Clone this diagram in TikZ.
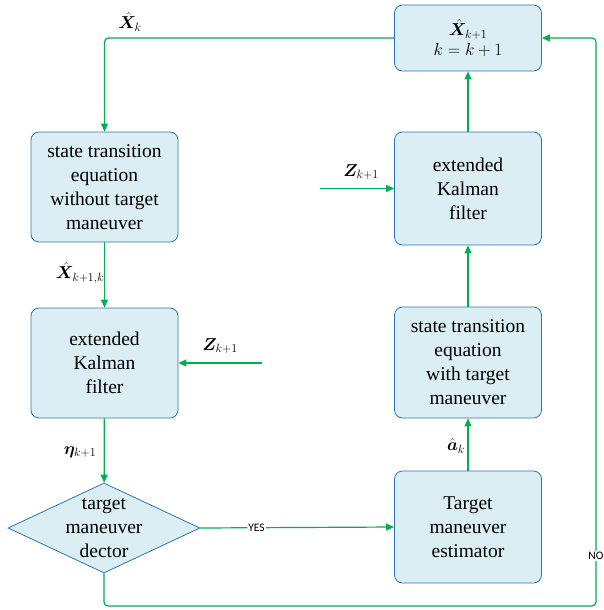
\documentclass[tikz,border=0pt]{standalone}
\usepackage{fontspec}
\setmainfont{Liberation Serif}
\newfontfamily\tagfont{Carlito}
\usepackage{amsmath}
\usepackage{bm}
\usetikzlibrary{positioning, shapes.geometric, arrows.meta}
\definecolor{boxfill}{RGB}{218,238,244}
\definecolor{boxline}{RGB}{46,117,182}
\definecolor{flow}{RGB}{0,176,80}
\tikzset{
  blockbox/.style={draw=boxline,fill=boxfill,rounded corners=8pt,thick,
    minimum width=147pt,minimum height=110pt,inner sep=0pt,align=center,
    font=\fontsize{19.5}{24}\selectfont},
  testbox/.style={draw=boxline,fill=boxfill,diamond,aspect=2.13,thick,
    minimum width=192pt,minimum height=90pt,inner sep=-4.25pt,align=center,
    font=\fontsize{19.5}{24}\selectfont},
  flowline/.style={flow,line width=1.2pt,rounded corners=4pt,
    -{Triangle[length=8pt,width=7pt]}},
  mathlabel/.style={font=\fontsize{17}{20}\selectfont},
  taglabel/.style={fill=white,text=black,inner sep=1pt,
    font=\tagfont\fontsize{11.5}{13}\selectfont}
}
\begin{document}
\begin{tikzpicture}[x=1pt,y=-1pt]
\useasboundingbox (0,0) rectangle (604,610);
% left column
\node[blockbox] (stmA) at (104.5,187) {state transition\\equation\\without target\\maneuver};
\node[blockbox] (ekfA) at (104.5,363) {extended\\Kalman\\filter};
\node[testbox] (det) at (104,528) {target\\maneuver\\dector};
% right column
\node[blockbox,minimum height=66pt,font=\fontsize{17}{20}\selectfont] (upd) at (468,38)
  {$\hat{\bm{X}}_{k+1}$\\$k=k+1$};
\node[blockbox,minimum height=113pt] (ekfB) at (468,188.5) {extended\\Kalman\\filter};
\node[blockbox,minimum height=111pt] (stmB) at (468,362.5) {state transition\\equation\\with target\\maneuver};
\node[blockbox,minimum height=112pt] (est) at (468,527) {Target\\maneuver\\estimator};
% free ends
\coordinate (zinA) at (262,363);
\coordinate (zinB) at (320,188.5);
\coordinate (loop) at (596,606);
% connectors
\draw[flowline] (upd.west) -| (stmA.north);
\draw[flowline] (stmA) -- (ekfA);
\draw[flowline] (zinA) -- (ekfA.east);
\draw[flowline] (ekfA) -- (det);
\draw[flowline] (det.east) -- node[taglabel,pos=0.29] (yes) {YES} (est.west);
\draw[flowline] (det.south) |- (loop) |- (upd.east);
\draw[flowline] (est) -- (stmB);
\draw[flowline] (stmB) -- (ekfB);
\draw[flowline] (zinB) -- (ekfB.west);
\draw[flowline] (ekfB) -- (upd);
\node[taglabel] (no) at (596,556) {NO};
% labels
\node[mathlabel] (lxk) at (130,22) {$\hat{\bm{X}}_{k}$};
\node[mathlabel] (lxp) at (80,273) {$\hat{\bm{X}}_{k+1,k}$};
\node[mathlabel] (lza) at (220,346) {$\bm{Z}_{k+1}$};
\node[mathlabel] (leta) at (80,452) {$\bm{\eta}_{k+1}$};
\node[mathlabel] (lak) at (456,446) {$\hat{\bm{a}}_{k}$};
\node[mathlabel] (lzb) at (361,172) {$\bm{Z}_{k+1}$};
\end{tikzpicture}
\end{document}
